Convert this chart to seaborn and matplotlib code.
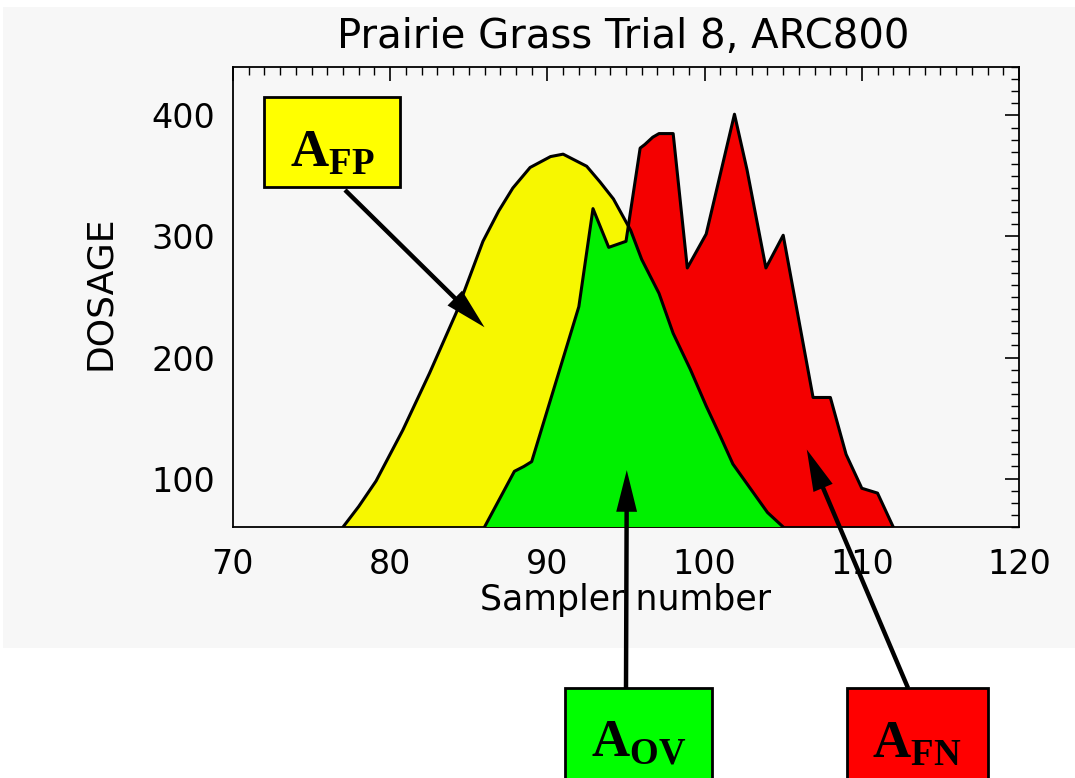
import numpy as np
import matplotlib
matplotlib.use('Agg')
import matplotlib.pyplot as plt
from matplotlib.patches import Rectangle
from matplotlib.ticker import MultipleLocator
import seaborn as sns

# predicted dosage (smooth curve) and observed dosage (jagged curve)
pred_x = [77.0, 78.0, 79.1, 80.8, 82.5, 84.2, 85.9, 86.9, 87.8, 88.9, 90.2, 91.0, 92.5, 93.35,
          94.2, 95.3, 96.0, 97.1, 98.0, 99.1, 100.1, 101.0, 101.8, 102.9, 104.0, 105.0]
pred_y = [60, 77, 98, 140, 187, 237, 296, 321, 340, 357, 366, 368, 358, 345,
          331, 305, 281, 253, 220, 190, 160, 135, 112, 92, 72, 60]

obs_x = [86.0, 87.9, 88.5, 89.0, 92.0, 92.9, 93.9, 95.0, 95.9, 96.2, 96.7, 97.1, 98.0,
         98.9, 100.1, 101.9, 102.7, 103.9, 105.0, 106.9, 108.0, 109.0, 110.0, 111.0, 112.0]
obs_y = [60, 106, 110, 114, 242, 323, 291, 296, 373, 376, 382, 385, 385,
         274, 302, 401, 355, 274, 301, 167, 167, 120, 92, 88, 60]

title = 'Prairie Grass Trial 8, ARC800'
xlabel = 'Sampler number'
ylabel = 'DOSAGE'
x_ticks = [70, 80, 90, 100, 110, 120]
y_ticks = [100, 200, 300, 400]

yellow = '#f7f700'
green = '#00f000'
red = '#f40000'
bg = '#f7f7f7'

sns.set_theme(style='white')
plt.rcParams['font.family'] = ['DejaVu Sans']
plt.rcParams['mathtext.fontset'] = 'custom'
plt.rcParams['mathtext.bf'] = 'Liberation Serif:bold'
plt.rcParams['mathtext.rm'] = 'Liberation Serif'

W, H = 1075, 778
fig = plt.figure(figsize=(W / 100, H / 100), dpi=100, facecolor='white')


def fx(px):
    return px / W


def fy(py):
    return 1 - py / H


# light grey panel behind the plot
fig.add_artist(Rectangle((fx(3), fy(648)), fx(1072), 641 / H, transform=fig.transFigure,
                         facecolor=bg, edgecolor='none', zorder=-10))

ax = fig.add_axes([fx(233), fy(527), 786 / W, 460 / H])
ax.set_facecolor(bg)

base = 60
ax.fill_between(pred_x, pred_y, base, color=yellow, lw=0, zorder=1)
red_fill = ax.fill_between(obs_x, obs_y, base, color=red, lw=0, zorder=2)
green_fill = ax.fill_between(pred_x, pred_y, base, color=green, lw=0, zorder=3)
green_fill.set_clip_path(red_fill.get_paths()[0], ax.transData)

sns.lineplot(x=pred_x, y=pred_y, color='black', lw=2.2, estimator=None, sort=False, ax=ax, zorder=4)
sns.lineplot(x=obs_x, y=obs_y, color='black', lw=2.2, estimator=None, sort=False, ax=ax, zorder=4)

ax.set_xlim(70, 120)
ax.set_ylim(60, 440)
ax.set_xticks(x_ticks)
ax.set_yticks(y_ticks)
ax.xaxis.set_minor_locator(MultipleLocator(1))
ax.yaxis.set_minor_locator(MultipleLocator(10))
ax.tick_params(which='both', direction='in', top=True, right=True, color='black', labelcolor='black')
ax.tick_params(which='major', length=10, width=1.2, labelsize=24, pad=13)
ax.tick_params(axis='x', which='major', pad=15)
ax.tick_params(which='minor', length=6, width=1.0)
for s in ax.spines.values():
    s.set_color('black')
    s.set_linewidth(1.3)

ax.set_xlabel(xlabel, fontsize=25, color='black')
ax.xaxis.set_label_coords(0.5, (527 - 583) / 460)
ax.set_ylabel(ylabel, fontsize=26, color='black')
ax.yaxis.set_label_coords((117 - 233) / 786, (527 - 293) / 460)
fig.text(fx(623), fy(48), title, ha='center', va='baseline', fontsize=29, color='black')

# labelled boxes with arrows
boxes = [
    (r'$\mathbf{A}_{\mathbf{FP}}$', (264, 97, 400, 187), (332, 151), (345, 190), (86.0, 225), '#ffff00'),
    (r'$\mathbf{A}_{\mathbf{OV}}$', (565, 688, 712, 800), (639, 742), (626, 688), (95.05, 107), '#00ff00'),
    (r'$\mathbf{A}_{\mathbf{FN}}$', (847, 688, 988, 800), (917, 742), (908, 688), (106.5, 124), '#ff0000'),
]
for label, (x0, y0, x1, y1), (tx, ty), (ax0, ay0), tip, col in boxes:
    fig.add_artist(Rectangle((fx(x0), fy(y1)), (x1 - x0) / W, (y1 - y0) / H,
                             transform=fig.transFigure, facecolor=col,
                             edgecolor='black', lw=2, zorder=5))
    fig.text(fx(tx), fy(ty), label, ha='center', va='center', fontsize=38,
             color='black', zorder=6)
    ax.annotate('', xy=tip, xycoords='data', xytext=(fx(ax0), fy(ay0)),
                textcoords='figure fraction', annotation_clip=False,
                arrowprops=dict(arrowstyle='simple,head_length=1.5,head_width=0.75,tail_width=0.16',
                                mutation_scale=20, lw=0, fc='black', ec='none',
                                shrinkA=0, shrinkB=0), zorder=7)

fig.savefig('out.png', dpi=100, facecolor='white')
